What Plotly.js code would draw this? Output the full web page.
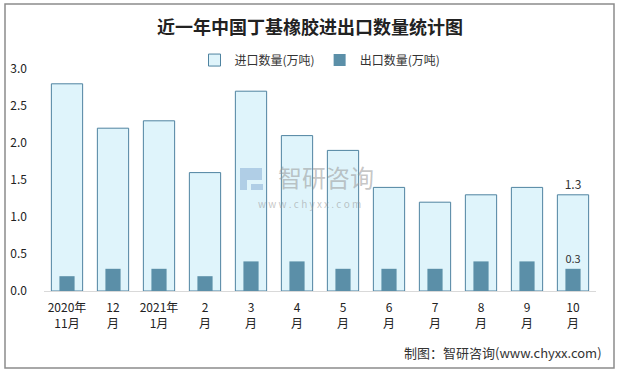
<!DOCTYPE html>
<html><head><meta charset="utf-8">
<script src="https://cdn.plot.ly/plotly-3.0.1.min.js"></script>
<style>html,body{margin:0;padding:0;background:#fff}#c{width:620px;height:371px}</style>
</head><body><div id="c"></div>
<script>
const categories = ["2020年<br>11月","12<br>月","2021年<br>1月","2<br>月","3<br>月","4<br>月","5<br>月","6<br>月","7<br>月","8<br>月","9<br>月","10<br>月"];
const importVals = [2.8, 2.2, 2.3, 1.6, 2.7, 2.1, 1.9, 1.4, 1.2, 1.3, 1.4, 1.3];
const exportVals = [0.2, 0.3, 0.3, 0.2, 0.4, 0.4, 0.3, 0.3, 0.3, 0.4, 0.4, 0.3];
const yTicks = [0, 0.5, 1.0, 1.5, 2.0, 2.5, 3.0];
const yTickText = ["0.0","0.5","1.0","1.5","2.0","2.5","3.0"];

const lastOnly = arr => arr.map((v,i)=> i===arr.length-1 ? v.toFixed(1) : "");
const font = "Noto Sans CJK SC, sans-serif";

const traces = [
  {type:"bar", name:"进口数量(万吨)", x:categories, y:importVals, width:0.68,
   marker:{color:"#DFF4FB", line:{color:"#4F83A0", width:1}},
   text:lastOnly(importVals), textposition:"outside", cliponaxis:false,
   textfont:{size:12, color:"#333", family:font}, hoverinfo:"y"},
  {type:"bar", name:"出口数量(万吨)", x:categories, y:exportVals, width:0.33,
   marker:{color:"#5B8FA8", line:{width:0}},
   text:lastOnly(exportVals), textposition:"outside", cliponaxis:false,
   textfont:{size:12, color:"#333", family:font}, hoverinfo:"y"}
];

// helpers: pixel -> paper
const px = x => (x-44)/552, py = y => (291-y)/222;
const X0=px(5), X1=px(614), Y0=py(368), Y1=py(4);
const wm = "rgba(120,160,205,0.45)";
const layout = {
  width:620, height:371,
  margin:{l:44, r:24, t:69, b:80, pad:0},
  paper_bgcolor:"#fff", plot_bgcolor:"#fff",
  barmode:"overlay", bargap:0.3,
  font:{family:font, size:12, color:"#333"},
  title:{text:"<b>近一年中国丁基橡胶进出口数量统计图</b>", x:0.5, xanchor:"center", y:0.925, yanchor:"middle",
         font:{family:"Noto Sans CJK SC, serif", size:18, color:"#222"}},
  legend:{orientation:"h", x:0.5, xanchor:"center", y:0.975, yanchor:"bottom",
          font:{size:12, color:"#333", family:font}, traceorder:"normal"},
  xaxis:{type:"category", showline:true, linecolor:"#D9D9D9", linewidth:1, ticks:"",
         showgrid:false, ticklabelstandoff:6, tickfont:{size:12, color:"#222"}, fixedrange:true},
  yaxis:{range:[0,3], tickvals:yTicks, ticktext:yTickText, showgrid:false, zeroline:false,
         showline:false, ticks:"", ticklabelstandoff:16, tickfont:{size:12, color:"#222"}, fixedrange:true},
  shapes:[
    {type:"rect", xref:"paper", yref:"paper", x0:X0, x1:X1, y0:Y0, y1:Y1,
     line:{color:"#8C8C8C", width:1.5}, fillcolor:"rgba(0,0,0,0)", layer:"below"},
    // watermark icon
    {type:"path", xref:"paper", yref:"paper", layer:"above", line:{width:0}, fillcolor:wm,
     path:`M ${px(240)} ${py(168)} L ${px(262)} ${py(168)} L ${px(262)} ${py(180)} L ${px(247)} ${py(180)} L ${px(247)} ${py(190)} L ${px(240)} ${py(190)} Z`},
    {type:"rect", xref:"paper", yref:"paper", layer:"above", line:{width:0}, fillcolor:wm,
     x0:px(251), x1:px(263), y0:py(190), y1:py(184)}
  ],
  annotations:[
    {xref:"paper", yref:"paper", x:X1-0.018, y:py(352), xanchor:"right", yanchor:"middle", showarrow:false,
     text:"制图：智研咨询(www.chyxx.com)", font:{size:13, color:"#333", family:font}},
    {xref:"paper", yref:"paper", x:px(326), y:py(176), xanchor:"center", yanchor:"middle", showarrow:false,
     text:"智研咨询", font:{size:24, color:"rgba(150,150,150,0.55)", family:font}},
    {xref:"paper", yref:"paper", x:px(309), y:py(203), xanchor:"center", yanchor:"middle", showarrow:false,
     text:"w w w . c h y x x . c o m", font:{size:10, color:"rgba(150,150,150,0.55)", family:font}}
  ]
};
Plotly.newPlot("c", traces, layout, {displayModeBar:false, staticPlot:true});
</script></body></html>
